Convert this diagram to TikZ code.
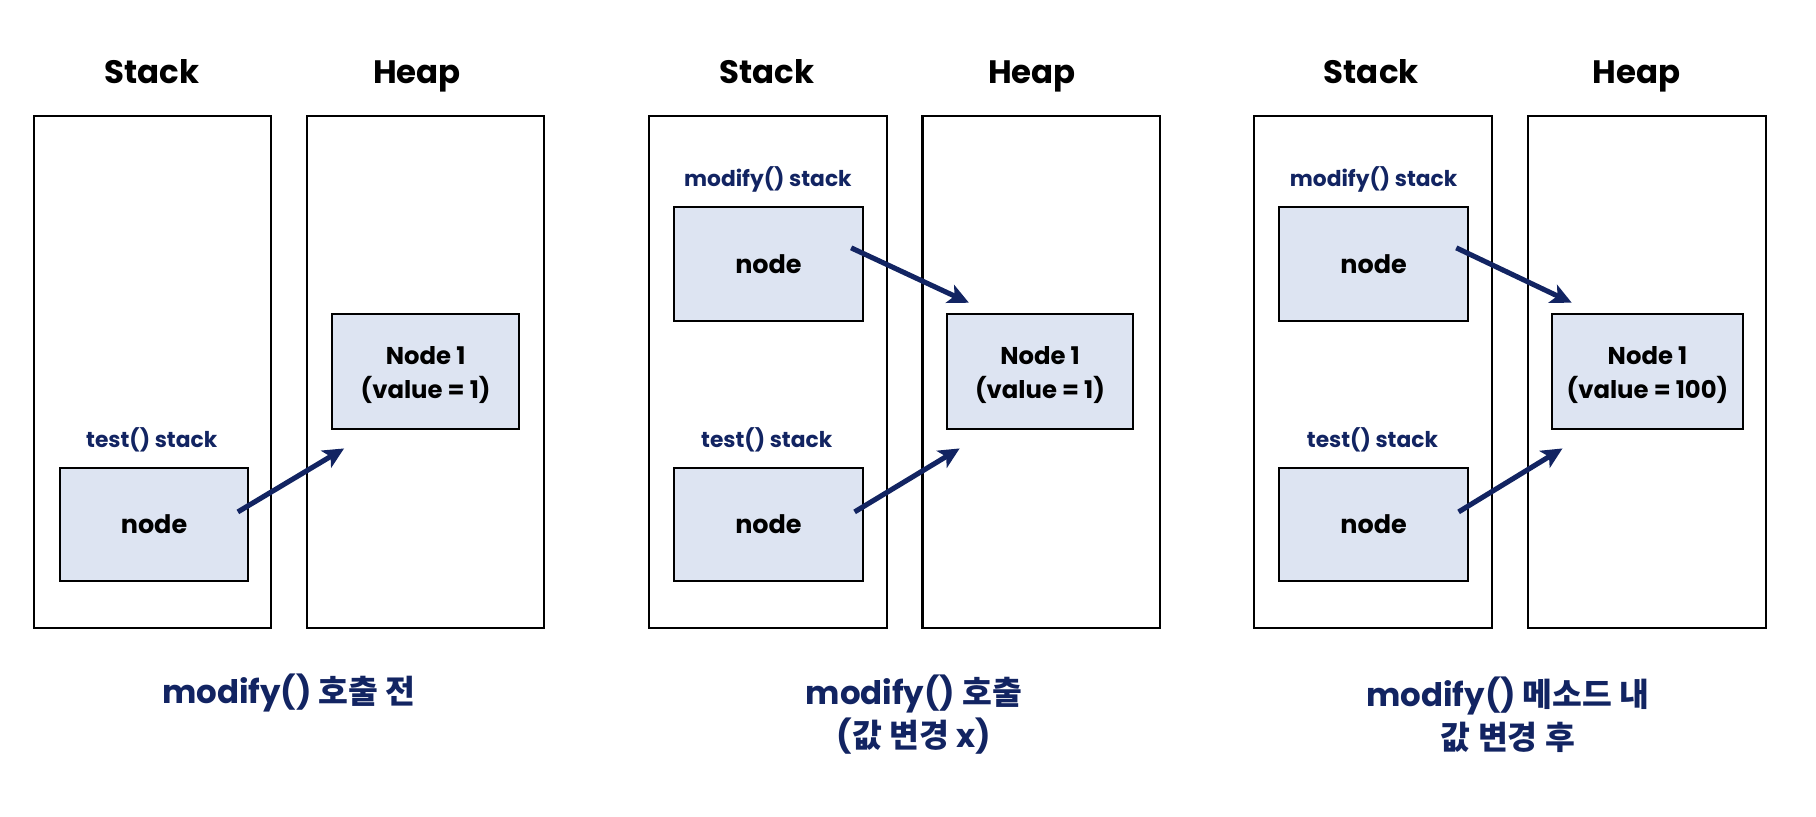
\documentclass[tikz,border=0pt]{standalone}
\usepackage{fontspec}
\setmainfont{Poppins}
\newfontfamily\kr{Noto Sans CJK KR}
\usepackage{tikz}
\usetikzlibrary{arrows.meta}

\definecolor{navy}{RGB}{18,36,98}
\definecolor{boxfill}{RGB}{221,228,242}

\tikzset{
  frame/.style={draw, line width=0.9pt, minimum width=102.5pt, minimum height=221pt, inner sep=0pt},
  membox/.style={draw, line width=0.9pt, fill=boxfill, minimum width=81.5pt, minimum height=49pt, inner sep=0pt, font=\fontsize{11}{14}\selectfont\bfseries},
  objbox/.style={membox, minimum width=80.5pt, minimum height=49.5pt, align=center, text height=25.8pt, font=\fontsize{10.5}{15}\selectfont\bfseries},
  title/.style={anchor=base, font=\fontsize{14}{17}\selectfont\bfseries},
  framelabel/.style={anchor=base, text=navy, font=\fontsize{9.4}{12}\selectfont\bfseries},
  caption/.style={text=navy, align=center, font=\fontsize{14}{18.5}\selectfont\bfseries}
}

\begin{document}
\begin{tikzpicture}[x=0.5pt, y=-0.5pt, >={Stealth[length=9pt,width=8.5pt,inset=2.2pt]}]
\useasboundingbox (0,0) rectangle (1568,705);

% titles
\begin{scope}[every node/.style={title}]
\node (stack title 1) at (131,72) {Stack};
\node (heap title 1) at (360,72) {Heap};
\node (stack title 2) at (662,72) {Stack};
\node (heap title 2) at (891,72) {Heap};
\node (stack title 3) at (1184,72) {Stack};
\node (heap title 3) at (1413,72) {Heap};
\end{scope}

% stack and heap frames
\begin{scope}[every node/.style={frame}]
\node (stack 1) at (131.5,321) {};
\node (heap 1) at (367.5,321) {};
\node (stack 2) at (663,321) {};
\node (heap 2) at (899,321) {};
\node (stack 3) at (1185.5,321) {};
\node (heap 3) at (1422,321) {};
\end{scope}

% frame labels
\begin{scope}[every node/.style={framelabel}]
\node (test label 1) at (131,386) {test() stack};
\node (modify label 2) at (663,161) {modify() stack};
\node (test label 2) at (662,386) {test() stack};
\node (modify label 3) at (1186,161) {modify() stack};
\node (test label 3) at (1185,386) {test() stack};
\end{scope}

% local variables
\begin{scope}[every node/.style={membox}]
\node (test node 1) at (133,453) {node};
\node (modify node 2) at (663.5,228) {node};
\node (test node 2) at (663.5,453) {node};
\node (modify node 3) at (1186,228) {node};
\node (test node 3) at (1186,453) {node};
\end{scope}

% heap objects
\begin{scope}[every node/.style={objbox}]
\node (obj 1) at (367.5,320.8) {Node 1\\(value = 1)};
\node (obj 2) at (898,320.8) {Node 1\\(value = 1)};
\node[minimum width=82.5pt] (obj 3) at (1422.5,320.8) {Node 1\\(value = 100)};
\end{scope}

% captions
\begin{scope}[every node/.style={caption}]
\node (caption 1) at (249.5,598) {modify() {\kr 호출 전}};
\node (caption 2) at (789,617) {modify() {\kr 호출}\\({\kr 값 변경} x)};
\node (caption 3) at (1302,617) {modify() {\kr 메소드 내}\\{\kr 값 변경 후}};
\end{scope}

% references
\begin{scope}[navy, line width=2.2pt]
\path [->] ([shift={(-10,-11)}]test node 1.east) edge ([shift={(11,16)}]obj 1.south west);
\path [->] ([shift={(-11,-14)}]modify node 2.east) edge ([shift={(20,-9)}]obj 2.north west);
\path [->] ([shift={(-8,-11)}]test node 2.east) edge ([shift={(12,16)}]obj 2.south west);
\path [->] ([shift={(-11,-14)}]modify node 3.east) edge ([shift={(18,-9)}]obj 3.north west);
\path [->] ([shift={(-9,-11)}]test node 3.east) edge ([shift={(10,16)}]obj 3.south west);
\end{scope}

\end{tikzpicture}
\end{document}
